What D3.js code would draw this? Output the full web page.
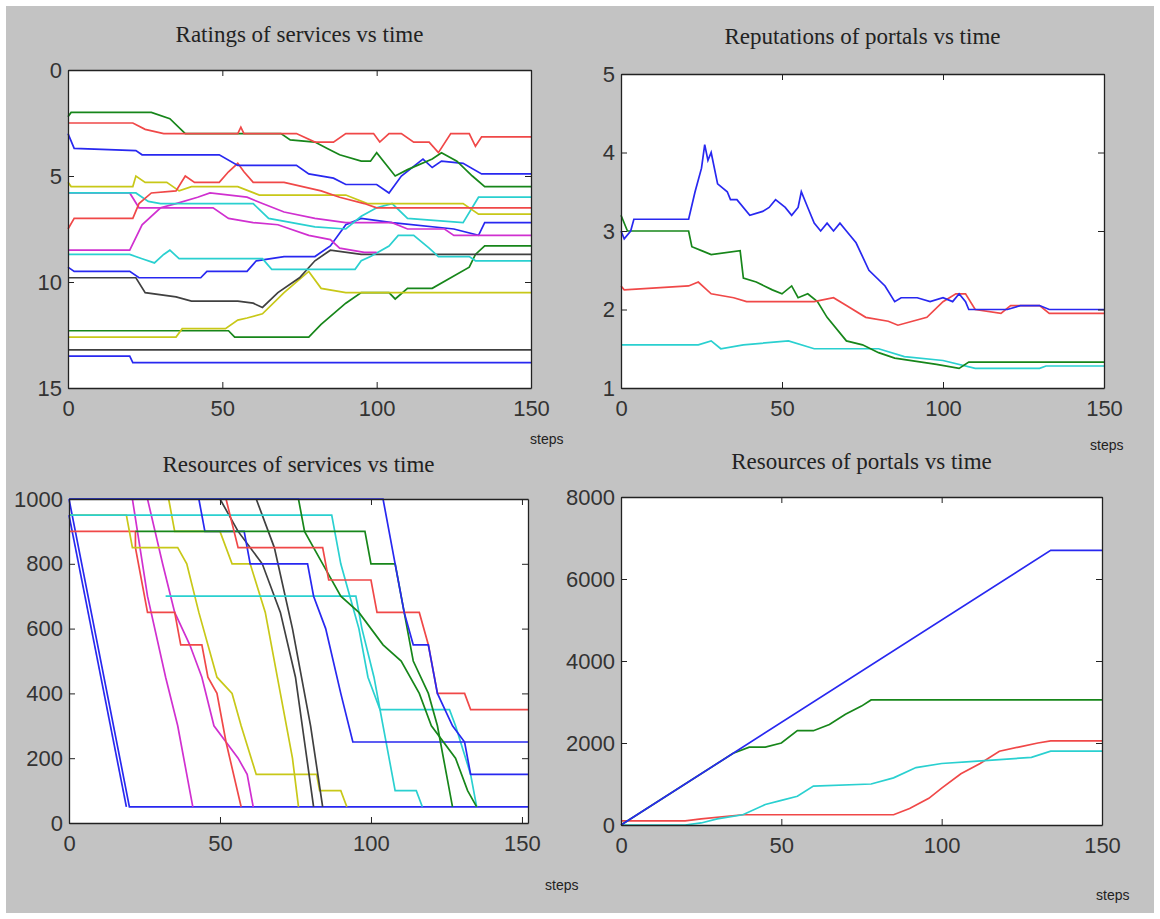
<!DOCTYPE html>
<html><head><meta charset="utf-8">
<script src="https://cdn.jsdelivr.net/npm/d3@7"></script>
<style>
body { margin: 0; background: #fff; }
.tick text { font-family: "Liberation Sans", Arial, sans-serif; font-size: 22px; fill: #333; }
.ttl { font-family: "Liberation Serif", serif; font-size: 23px; fill: #222; }
.stp { font-family: "Liberation Sans", Arial, sans-serif; font-size: 14px; fill: #222; }
</style></head>
<body>
<div id="chart"></div>
<script>
var C = { b: '#2828f0', g: '#17861a', r: '#f04848', c: '#2ad0d0', m: '#d030d0', y: '#c8c818', k: '#404040' };

// Ratings of services vs time (step, rating)
var ratingSeries = [
  { c: 'k', p: [[0,13.2],[150,13.2]] },
  { c: 'b', p: [[0,13.5],[20,13.5],[21,13.8],[150,13.8]] },
  { c: 'g', p: [[0,12.3],[52,12.3],[54,12.6],[78,12.6],[82,12.0],[90,11.0],[95,10.5],[104,10.5],[106,10.8],[110,10.3],[118,10.3],[124,9.8],[130,9.3],[132,8.7],[135,8.3],[150,8.3]] },
  { c: 'y', p: [[0,12.6],[35,12.6],[37,12.2],[51,12.2],[55,11.8],[58,11.7],[63,11.5],[70,10.5],[78,9.5],[82,10.3],[90,10.5],[150,10.5]] },
  { c: 'k', p: [[0,9.8],[22,9.8],[25,10.5],[35,10.7],[40,10.9],[55,10.9],[60,11.0],[63,11.2],[68,10.5],[75,9.8],[80,9.0],[85,8.5],[95,8.7],[150,8.7]] },
  { c: 'b', p: [[0,9.3],[2,9.5],[20,9.5],[23,9.8],[43,9.8],[45,9.5],[58,9.5],[61,9.0],[70,8.8],[80,8.8],[85,8.3],[90,7.3],[95,7.0],[105,7.2],[125,7.5],[133,7.8],[135,7.2],[150,7.2]] },
  { c: 'c', p: [[0,8.7],[20,8.7],[24,8.9],[28,9.1],[31,8.7],[33,8.5],[36,8.9],[63,8.9],[66,9.4],[93,9.4],[95,9.0],[98,8.8],[104,8.3],[107,7.8],[112,7.8],[117,8.4],[120,8.8],[130,8.8],[132,9.0],[150,9.0]] },
  { c: 'm', p: [[0,8.5],[20,8.5],[24,7.3],[30,6.5],[35,6.3],[42,6.0],[46,5.8],[58,6.0],[63,6.3],[70,6.7],[80,7.0],[90,7.2],[105,7.2],[110,7.5],[122,7.5],[125,7.8],[150,7.8]] },
  { c: 'm', p: [[0,5.8],[20,5.8],[23,6.5],[47,6.5],[52,7.0],[60,7.2],[68,7.3],[78,7.8],[85,8.0],[88,8.4],[96,8.6],[100,8.6]] },
  { c: 'c', p: [[0,5.8],[22,5.8],[26,6.2],[30,6.3],[60,6.3],[65,7.0],[80,7.4],[90,7.5],[95,6.9],[100,6.5],[105,6.3],[110,7.0],[128,7.2],[133,6.0],[150,6.0]] },
  { c: 'y', p: [[0,5.3],[1,5.5],[21,5.5],[22,5.0],[25,5.3],[32,5.3],[36,5.7],[40,5.5],[55,5.5],[62,5.9],[90,5.9],[97,6.3],[128,6.3],[133,6.8],[150,6.8]] },
  { c: 'r', p: [[0,7.5],[2,7.0],[21,7.0],[23,6.3],[27,5.8],[35,5.7],[38,5.0],[41,5.3],[49,5.3],[52,4.8],[55,4.4],[57,4.8],[60,5.3],[70,5.3],[82,5.7],[88,6.0],[96,6.3],[100,6.5],[150,6.5]] },
  { c: 'b', p: [[0,3.0],[2,3.7],[22,3.8],[24,4.0],[49,4.0],[55,4.5],[74,4.5],[78,4.9],[86,5.1],[90,5.4],[100,5.4],[104,5.8],[108,5.0],[115,4.2],[118,4.6],[121,4.3],[128,4.4],[134,4.9],[150,4.9]] },
  { c: 'g', p: [[0,2.2],[1,2.0],[27,2.0],[33,2.3],[38,3.0],[69,3.0],[72,3.3],[80,3.4],[84,3.7],[88,4.0],[95,4.3],[98,4.3],[100,3.9],[106,5.0],[110,4.7],[118,4.2],[121,3.9],[126,4.3],[131,5.0],[135,5.5],[150,5.5]] },
  { c: 'r', p: [[0,2.5],[21,2.5],[25,2.8],[31,3.0],[55,3.0],[56,2.7],[57,3.0],[74,3.0],[80,3.4],[86,3.4],[90,3.0],[99,3.0],[101,3.4],[104,3.0],[108,3.0],[112,3.4],[117,3.4],[120,3.9],[124,3.0],[130,3.0],[132,3.6],[134,3.15],[150,3.15]] }
];

// Reputations of portals vs time
var reputationSeries = [
  { c: 'c', p: [[0,1.55],[24,1.55],[28,1.6],[31,1.5],[38,1.55],[52,1.6],[60,1.5],[70,1.5],[80,1.5],[88,1.4],[100,1.35],[110,1.25],[130,1.25],[132,1.28],[150,1.28]] },
  { c: 'g', p: [[0,3.2],[2,3.0],[21,3.0],[22,2.8],[25,2.75],[28,2.7],[37,2.75],[38,2.4],[42,2.35],[47,2.25],[50,2.2],[53,2.3],[55,2.15],[58,2.2],[61,2.1],[64,1.9],[70,1.6],[75,1.55],[80,1.45],[85,1.38],[98,1.3],[105,1.25],[108,1.33],[150,1.33]] },
  { c: 'r', p: [[0,2.3],[1,2.25],[21,2.3],[24,2.35],[28,2.2],[35,2.15],[39,2.1],[55,2.1],[60,2.1],[66,2.15],[70,2.05],[76,1.9],[83,1.85],[86,1.8],[95,1.9],[100,2.1],[104,2.2],[107,2.2],[110,2.0],[118,1.95],[121,2.05],[130,2.05],[133,1.95],[150,1.95]] },
  { c: 'b', p: [[0,3.0],[1,2.9],[3,3.0],[4,3.15],[21,3.15],[23,3.5],[25,3.8],[26,4.1],[27,3.9],[28,4.0],[30,3.6],[33,3.5],[34,3.4],[36,3.4],[40,3.2],[44,3.25],[46,3.3],[48,3.4],[51,3.3],[53,3.2],[55,3.3],[56,3.5],[58,3.3],[60,3.1],[62,3.0],[64,3.1],[66,3.0],[68,3.1],[70,3.0],[73,2.85],[77,2.5],[82,2.3],[85,2.1],[87,2.15],[92,2.15],[96,2.1],[100,2.15],[103,2.1],[105,2.2],[107,2.1],[108,2.0],[120,2.0],[124,2.05],[130,2.05],[133,2.0],[150,2.0]] }
];

// Resources of services vs time
var serviceResSeries = [
  { c: 'b', p: [[0,1000],[20,50],[152,50]] },
  { c: 'b', p: [[0,950],[19,50]] },
  { c: 'm', p: [[0,1000],[21,1000],[26,700],[32,450],[36,300],[41,50]] },
  { c: 'm', p: [[0,1000],[26,1000],[31,800],[35,650],[40,550],[44,450],[48,300],[52,250],[56,200],[59,150],[61,50]] },
  { c: 'r', p: [[0,900],[22,900],[22,850],[26,650],[35,650],[37,550],[44,550],[46,450],[49,400],[52,250],[57,50]] },
  { c: 'y', p: [[0,950],[19,950],[21,850],[36,850],[39,800],[43,650],[49,450],[54,400],[57,300],[62,150],[82,150],[83,100],[90,100],[92,50]] },
  { c: 'y', p: [[33,1000],[35,900],[50,900],[54,800],[60,800],[65,650],[70,400],[74,200],[76,50]] },
  { c: 'k', p: [[50,1000],[56,900],[64,800],[70,650],[75,450],[78,250],[81,50]] },
  { c: 'k', p: [[62,1000],[68,850],[74,600],[80,300],[84,50]] },
  { c: 'c', p: [[0,950],[87,950],[90,800],[93,700],[96,600],[99,450],[103,350],[126,350],[128,300],[133,150],[135,50]] },
  { c: 'c', p: [[32,700],[95,700],[97,600],[101,450],[104,300],[107,150],[108,100],[115,100],[117,50]] },
  { c: 'b', p: [[43,1000],[45,900],[58,900],[60,800],[79,800],[81,700],[85,600],[90,400],[94,250],[152,250]] },
  { c: 'g', p: [[22,900],[98,900],[100,800],[108,800],[111,650],[114,500],[119,400],[122,300],[125,150],[127,50]] },
  { c: 'g', p: [[0,1000],[76,1000],[78,900],[84,800],[90,700],[96,650],[104,550],[110,500],[116,400],[120,300],[128,200],[132,100],[135,50]] },
  { c: 'r', p: [[52,1000],[56,850],[84,850],[86,750],[100,750],[102,650],[116,650],[119,550],[122,400],[131,400],[133,350],[152,350]] },
  { c: 'b', p: [[0,1000],[104,1000],[108,800],[111,650],[114,550],[119,550],[122,400],[127,300],[131,250],[133,150],[152,150]] }
];

// Resources of portals vs time
var portalResSeries = [
  { c: 'r', p: [[0,100],[20,100],[25,150],[38,250],[85,250],[90,400],[96,650],[100,900],[106,1250],[112,1500],[118,1800],[124,1900],[130,2000],[134,2050],[150,2050]] },
  { c: 'c', p: [[0,0],[20,0],[25,50],[30,150],[38,250],[45,500],[50,600],[55,700],[60,950],[78,1000],[85,1150],[92,1400],[100,1500],[110,1550],[128,1650],[134,1800],[150,1800]] },
  { c: 'g', p: [[0,0],[35,1750],[40,1900],[45,1900],[50,2000],[55,2300],[60,2300],[65,2450],[70,2700],[75,2900],[78,3050],[150,3050]] },
  { c: 'b', p: [[0,0],[134,6700],[150,6700]] }
];

var svg = d3.select('#chart').append('svg').attr('width', 1160).attr('height', 919);
svg.append('rect').attr('x', 6).attr('y', 6).attr('width', 1148).attr('height', 907).attr('fill', '#c3c3c3');

function panel(o) {
  var x = d3.scaleLinear().domain(o.xd).range([o.x0, o.x1]);
  var y = d3.scaleLinear().domain(o.yd).range([o.y1, o.y0]);
  var g = svg.append('g');
  g.append('rect').attr('x', o.x0).attr('y', o.y0).attr('width', o.x1 - o.x0).attr('height', o.y1 - o.y0).attr('fill', '#fff');

  var line = d3.line().x(function(d) { return x(d[0]); }).y(function(d) { return y(d[1]); });
  g.selectAll('.ln').data(o.series).enter().append('path')
    .attr('d', function(d) { return line(d.p); })
    .attr('fill', 'none').attr('stroke', function(d) { return C[d.c]; })
    .attr('stroke-width', 1.7);

  var fmt = d3.format('d');
  var ax = function(a, t) { return a.tickValues(t).tickFormat(fmt).tickSizeOuter(0); };
  g.append('g').attr('class', 'xb').attr('transform', 'translate(0,' + o.y1 + ')').call(ax(d3.axisBottom(x).tickSizeInner(-6).tickPadding(12), o.xt));
  g.append('g').attr('transform', 'translate(0,' + o.y0 + ')').call(ax(d3.axisTop(x).tickSizeInner(-6), o.xt)).selectAll('text').remove();
  g.append('g').attr('transform', 'translate(' + o.x0 + ',0)').call(ax(d3.axisLeft(y).tickSizeInner(-6).tickPadding(6), o.yt));
  g.append('g').attr('transform', 'translate(' + o.x1 + ',0)').call(ax(d3.axisRight(y).tickSizeInner(-6), o.yt)).selectAll('text').remove();
  g.selectAll('.domain').attr('stroke', '#222').attr('stroke-width', 1.3);
  g.selectAll('.tick line').attr('stroke', '#222');

  g.append('text').attr('class', 'ttl').attr('x', (o.x0 + o.x1) / 2).attr('y', o.ty).attr('text-anchor', 'middle').text(o.title);
  g.append('text').attr('class', 'stp').attr('x', o.sx).attr('y', o.sy).text('steps');
}

panel({ x0: 68, x1: 531, y0: 70, y1: 388, xd: [0, 150], yd: [15, 0], xt: [0, 50, 100, 150], yt: [0, 5, 10, 15],
  series: ratingSeries, title: 'Ratings of services vs time', ty: 42, sx: 530, sy: 444 });
panel({ x0: 621, x1: 1104, y0: 74, y1: 388, xd: [0, 150], yd: [1, 5], xt: [0, 50, 100, 150], yt: [1, 2, 3, 4, 5],
  series: reputationSeries, title: 'Reputations of portals vs time', ty: 44, sx: 1090, sy: 450 });
panel({ x0: 69, x1: 528, y0: 499, y1: 823, xd: [0, 152], yd: [0, 1000], xt: [0, 50, 100, 150], yt: [0, 200, 400, 600, 800, 1000],
  series: serviceResSeries, title: 'Resources of services vs time', ty: 472, sx: 545, sy: 890 });
panel({ x0: 621, x1: 1102, y0: 497, y1: 825, xd: [0, 150], yd: [0, 8000], xt: [0, 50, 100, 150], yt: [0, 2000, 4000, 6000, 8000],
  series: portalResSeries, title: 'Resources of portals vs time', ty: 469, sx: 1096, sy: 900 });
</script>
</body></html>
